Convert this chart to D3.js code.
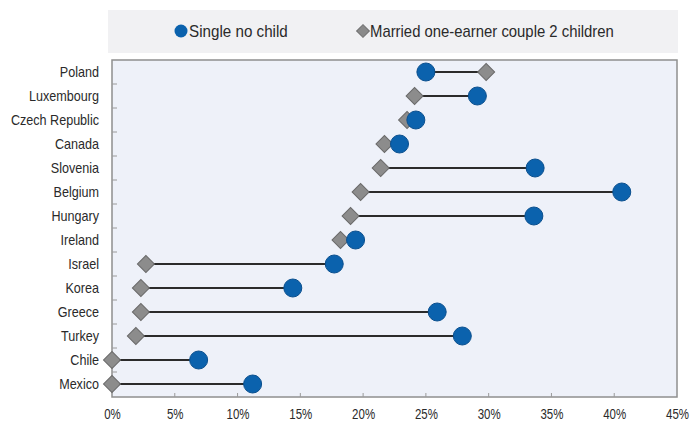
<!DOCTYPE html>
<html>
<head>
<meta charset="utf-8">
<script src="https://cdn.jsdelivr.net/npm/d3@7.9.0/dist/d3.min.js"></script>
<style>
  body { margin: 0; background: #fff; }
  svg { display: block; font-family: "Liberation Sans", Arial, sans-serif; }
</style>
</head>
<body>
<div id="chart"></div>
<script>
const countries = ['Poland', 'Luxembourg', 'Czech Republic', 'Canada', 'Slovenia', 'Belgium', 'Hungary',
    'Ireland', 'Israel', 'Korea', 'Greece', 'Turkey', 'Chile', 'Mexico'];
const singleNoChild = [25.0, 29.1, 24.2, 22.9, 33.7, 40.6, 33.6, 19.4, 17.7, 14.4, 25.9, 27.9, 6.9, 11.2];
const marriedTwoChildren = [29.8, 24.1, 23.5, 21.7, 21.4, 19.8, 19.0, 18.2, 2.7, 2.3, 2.3, 1.9, 0.0, 0.0];
const xTicks = [0, 5, 10, 15, 20, 25, 30, 35, 40, 45];
const legendLabels = ['Single no child', 'Married one-earner couple 2 children'];

const width = 693;
const height = 421;
const plot = { left: 112, right: 677, top: 60, bottom: 397 };

const rows = countries.map((c, i) => ({ country: c, single: singleNoChild[i], married: marriedTwoChildren[i] }));

const svg = d3.select('#chart')
    .append('svg')
    .attr('width', width)
    .attr('height', height);

const xScale = d3.scaleLinear()
    .domain([0, 45])
    .range([plot.left, plot.right]);

const yScale = d3.scaleBand()
    .domain(countries)
    .range([plot.top, plot.bottom - 1])
    .padding(0);

// narrow-looking text: squeeze horizontally
function narrowText(g, x, y, str, size, sx, anchor) {
    return g.append('text')
        .attr('transform', `translate(${x},${y}) scale(${sx},1)`)
        .attr('text-anchor', anchor || 'start')
        .attr('font-size', size)
        .attr('fill', '#2a2a2a')
        .text(str);
}

// legend box
const legend = svg.append('g');
legend.append('rect')
    .attr('x', 108).attr('y', 10)
    .attr('width', 570).attr('height', 43)
    .attr('fill', '#f1f1f3');

legend.append('circle')
    .attr('cx', 181).attr('cy', 31).attr('r', 6.5)
    .attr('fill', '#0b62ad');
narrowText(legend, 189, 37, legendLabels[0], 16, 0.95);

legend.append('rect')
    .attr('x', -4.5).attr('y', -4.5).attr('width', 9).attr('height', 9)
    .attr('transform', 'translate(363,31) rotate(45)')
    .attr('fill', '#8a8a8a').attr('stroke', '#6d6d6d');
narrowText(legend, 370, 37, legendLabels[1], 16, 0.93);

// plot background
svg.append('rect')
    .attr('x', plot.left).attr('y', plot.top)
    .attr('width', plot.right - plot.left)
    .attr('height', plot.bottom - plot.top)
    .attr('fill', '#eef1f9')
    .attr('stroke', '#8f8f8f')
    .attr('stroke-width', 1.5);

// y ticks between rows (inside)
const yBounds = countries.slice(1).map(c => yScale(c));
svg.append('g')
    .selectAll('line')
    .data(yBounds)
    .join('line')
    .attr('x1', plot.left).attr('x2', plot.left + 5)
    .attr('y1', d => d).attr('y2', d => d)
    .attr('stroke', '#9a9a9a');

// x axis
const xAxis = d3.axisBottom(xScale)
    .tickValues(xTicks)
    .tickFormat(d => d + '%')
    .tickSize(0);

const xg = svg.append('g')
    .attr('transform', `translate(0, ${plot.bottom})`)
    .call(xAxis);
xg.select('.domain').remove();
xg.selectAll('.tick text')
    .attr('y', 0).attr('dy', null)
    .attr('transform', 'translate(0,22) scale(0.82,1)')
    .attr('font-size', 14)
    .attr('fill', '#2a2a2a')
    .attr('font-family', '"Liberation Sans", Arial, sans-serif');

svg.append('g')
    .selectAll('line')
    .data(xTicks.slice(1, -1))
    .join('line')
    .attr('x1', d => xScale(d)).attr('x2', d => xScale(d))
    .attr('y1', plot.bottom).attr('y2', plot.bottom - 4)
    .attr('stroke', '#9a9a9a');

// y labels
const labels = svg.append('g');
countries.forEach(c => {
    narrowText(labels, 99, yScale(c) + yScale.bandwidth() / 2 + 5, c, 14, 0.9, 'end');
});

const cy = d => yScale(d.country) + yScale.bandwidth() / 2;

// connecting lines
svg.append('g')
    .selectAll('line')
    .data(rows)
    .join('line')
    .attr('x1', d => xScale(d.married))
    .attr('x2', d => xScale(d.single))
    .attr('y1', cy).attr('y2', cy)
    .attr('stroke', '#2b2b2b')
    .attr('stroke-width', 2);

// diamonds
svg.append('g')
    .selectAll('rect')
    .data(rows)
    .join('rect')
    .attr('x', -6).attr('y', -6).attr('width', 12).attr('height', 12)
    .attr('transform', d => `translate(${xScale(d.married)},${cy(d)}) rotate(45)`)
    .attr('fill', '#8c8c8c')
    .attr('stroke', '#6a6a6a')
    .attr('stroke-width', 1);

// circles
svg.append('g')
    .selectAll('circle')
    .data(rows)
    .join('circle')
    .attr('cx', d => xScale(d.single))
    .attr('cy', cy)
    .attr('r', 9)
    .attr('fill', '#0b62ad')
    .attr('stroke', '#0a4f8e')
    .attr('stroke-width', 1);
</script>
</body>
</html>
